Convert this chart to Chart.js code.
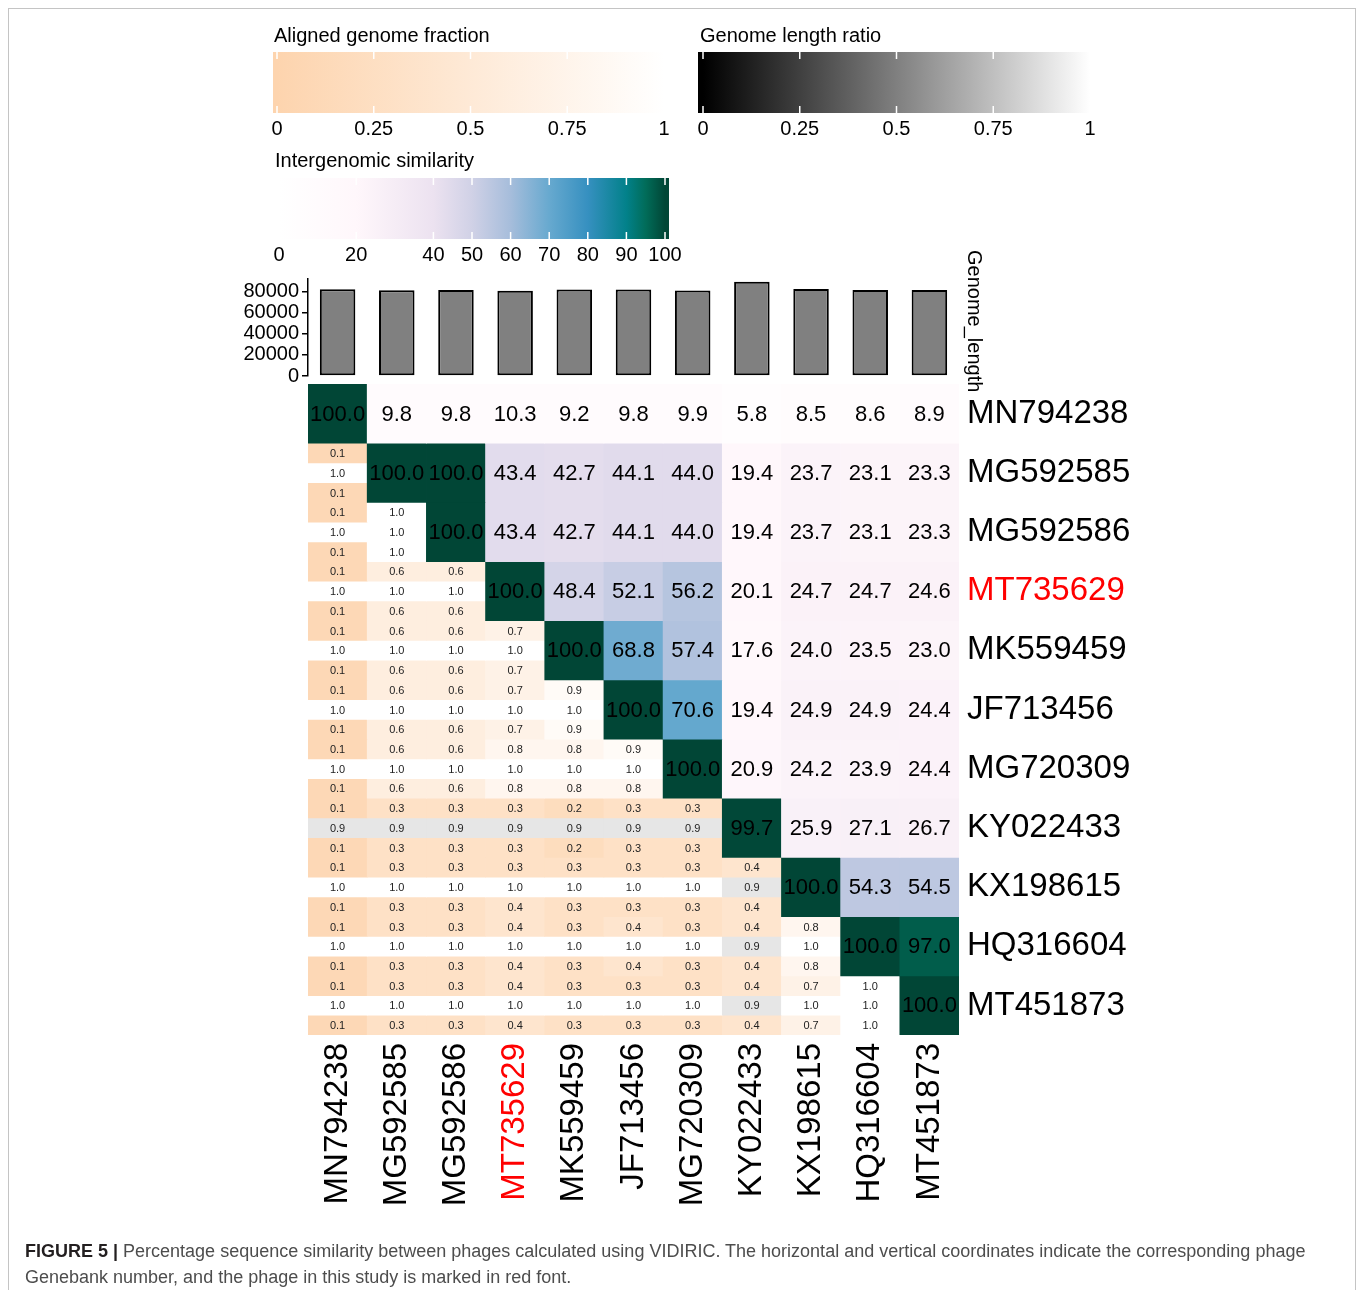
<!DOCTYPE html>
<html>
<head>
<meta charset="utf-8">
<script src="https://cdn.jsdelivr.net/npm/chart.js@4.4.1/dist/chart.umd.min.js"></script>
<style>
  html, body { margin: 0; padding: 0; background: #fff; }
  #page { position: relative; width: 1360px; height: 1290px; overflow: hidden; }
  canvas { position: absolute; left: 0; }
  #heat { top: 0; }
  #bars { top: 250px; }
  #frame { position: absolute; left: 8px; top: 8px; width: 1346px; height: 1320px; border: 1px solid #c4c4c4; }
  #caption { position: absolute; left: 25px; top: 1238px; font: 18px "Liberation Sans", Arial, sans-serif;
             line-height: 26px; color: #4d4d4d; white-space: nowrap; }
  #caption b { color: #231f20; }
</style>
</head>
<body>
<div id="page">
  <div id="frame"></div>
  <canvas id="heat" width="1360" height="1290"></canvas>
  <canvas id="bars" width="1360" height="140"></canvas>
  <div id="caption">
    <div><b>FIGURE 5 |</b> Percentage sequence similarity between phages calculated using VIDIRIC. The horizontal and vertical coordinates indicate the corresponding phage</div>
    <div>Genebank number, and the phage in this study is marked in red font.</div>
  </div>
</div>
<script>
const names = ["MN794238", "MG592585", "MG592586", "MT735629", "MK559459", "JF713456",
               "MG720309", "KY022433", "KX198615", "HQ316604", "MT451873"];
const highlight = "MT735629";

const genomeLength = [82300, 81300, 81500, 80900, 82000, 82000, 81200, 89500, 82600, 81600, 81500];
const lengthTicks = [0, 20000, 40000, 60000, 80000];

// upper triangle incl. diagonal: row i holds columns i..10
const similarity = [
  [100.0, 9.8, 9.8, 10.3, 9.2, 9.8, 9.9, 5.8, 8.5, 8.6, 8.9],
  [100.0, 100.0, 43.4, 42.7, 44.1, 44.0, 19.4, 23.7, 23.1, 23.3],
  [100.0, 43.4, 42.7, 44.1, 44.0, 19.4, 23.7, 23.1, 23.3],
  [100.0, 48.4, 52.1, 56.2, 20.1, 24.7, 24.7, 24.6],
  [100.0, 68.8, 57.4, 17.6, 24.0, 23.5, 23.0],
  [100.0, 70.6, 19.4, 24.9, 24.9, 24.4],
  [100.0, 20.9, 24.2, 23.9, 24.4],
  [99.7, 25.9, 27.1, 26.7],
  [100.0, 54.3, 54.5],
  [100.0, 97.0],
  [100.0]
];

// lower triangle: row i holds columns 0..i-1
const fractionTop = [
  [],
  [0.1],
  [0.1, 1.0],
  [0.1, 0.6, 0.6],
  [0.1, 0.6, 0.6, 0.7],
  [0.1, 0.6, 0.6, 0.7, 0.9],
  [0.1, 0.6, 0.6, 0.8, 0.8, 0.9],
  [0.1, 0.3, 0.3, 0.3, 0.2, 0.3, 0.3],
  [0.1, 0.3, 0.3, 0.3, 0.3, 0.3, 0.3, 0.4],
  [0.1, 0.3, 0.3, 0.4, 0.3, 0.4, 0.3, 0.4, 0.8],
  [0.1, 0.3, 0.3, 0.4, 0.3, 0.3, 0.3, 0.4, 0.7, 1.0]
];
const lengthRatio = [
  [],
  [1.0],
  [1.0, 1.0],
  [1.0, 1.0, 1.0],
  [1.0, 1.0, 1.0, 1.0],
  [1.0, 1.0, 1.0, 1.0, 1.0],
  [1.0, 1.0, 1.0, 1.0, 1.0, 1.0],
  [0.9, 0.9, 0.9, 0.9, 0.9, 0.9, 0.9],
  [1.0, 1.0, 1.0, 1.0, 1.0, 1.0, 1.0, 0.9],
  [1.0, 1.0, 1.0, 1.0, 1.0, 1.0, 1.0, 0.9, 1.0],
  [1.0, 1.0, 1.0, 1.0, 1.0, 1.0, 1.0, 0.9, 1.0, 1.0]
];
const fractionBottom = [
  [],
  [0.1],
  [0.1, 1.0],
  [0.1, 0.6, 0.6],
  [0.1, 0.6, 0.6, 0.7],
  [0.1, 0.6, 0.6, 0.7, 0.9],
  [0.1, 0.6, 0.6, 0.8, 0.8, 0.8],
  [0.1, 0.3, 0.3, 0.3, 0.2, 0.3, 0.3],
  [0.1, 0.3, 0.3, 0.4, 0.3, 0.3, 0.3, 0.4],
  [0.1, 0.3, 0.3, 0.4, 0.3, 0.4, 0.3, 0.4, 0.8],
  [0.1, 0.3, 0.3, 0.4, 0.3, 0.3, 0.3, 0.4, 0.7, 1.0]
];

const fractionTicks = [0, 0.25, 0.5, 0.75, 1];
const ratioTicks = [0, 0.25, 0.5, 0.75, 1];
const similarityTicks = [0, 20, 40, 50, 60, 70, 80, 90, 100];

const simStops = [[0, "#ffffff"], [20, "#fff7fb"], [40, "#ece2f0"], [50, "#d0d1e6"], [60, "#a6bddb"],
                  [70, "#67a9cf"], [80, "#3690c0"], [90, "#02818a"], [95, "#016c59"], [100, "#014636"]];
const fracStops = [[0, "#fdd4ae"], [1, "#ffffff"]];
const ratioStops = [[0, "#000000"], [1, "#ffffff"]];

const FONT = '"Liberation Sans", Arial, sans-serif';
const N = names.length;

const hexRgb = h => [1, 3, 5].map(i => parseInt(h.slice(i, i + 2), 16));
function colorFrom(stops, v) {
  if (v <= stops[0][0]) return stops[0][1];
  for (let k = 1; k < stops.length; k++) {
    if (v <= stops[k][0]) {
      const t = (v - stops[k - 1][0]) / (stops[k][0] - stops[k - 1][0]);
      const a = hexRgb(stops[k - 1][1]), b = hexRgb(stops[k][1]);
      const c = a.map((x, n) => Math.round(x + (b[n] - x) * t));
      return `rgb(${c[0]}, ${c[1]}, ${c[2]})`;
    }
  }
  return stops[stops.length - 1][1];
}

const labelColor = ctx => names[ctx.index] === highlight ? "#ff0000" : "#000000";

// one floating-bar dataset per row (similarity) and three per row for the split lower cells
const datasets = [];
for (let i = 0; i < N; i++) {
  datasets.push({
    data: names.map((_, j) => j >= i ? [i, i + 1] : null),
    backgroundColor: names.map((_, j) => j >= i ? colorFrom(simStops, similarity[i][j - i]) : "transparent")
  });
  [fractionTop, lengthRatio, fractionBottom].forEach((arr, k) => {
    const stops = k === 1 ? ratioStops : fracStops;
    datasets.push({
      data: names.map((_, j) => j < i ? [i + k / 3, i + (k + 1) / 3] : null),
      backgroundColor: names.map((_, j) => j < i ? colorFrom(stops, arr[i][j]) : "transparent")
    });
  });
}

const cellText = {
  id: "cellText",
  afterDatasetsDraw(chart) {
    const ctx = chart.ctx, x = chart.scales.x, y = chart.scales.y;
    ctx.save();
    ctx.textAlign = "center";
    ctx.textBaseline = "middle";
    for (let i = 0; i < N; i++) {
      for (let j = 0; j < N; j++) {
        const px = x.getPixelForValue(j);
        if (j >= i) {
          ctx.font = "22px " + FONT;
          ctx.fillStyle = "#000";
          ctx.fillText(similarity[i][j - i].toFixed(1), px, y.getPixelForValue(i + 0.5) + 1);
        } else {
          ctx.font = "11px " + FONT;
          ctx.fillStyle = "#222";
          [fractionTop, lengthRatio, fractionBottom].forEach((arr, k) => {
            ctx.fillText(arr[i][j].toFixed(1), px, y.getPixelForValue(i + (k + 0.5) / 3) + 1);
          });
        }
      }
    }
    ctx.restore();
  }
};

function drawLegend(ctx, o) {
  ctx.save();
  ctx.fillStyle = "#000";
  ctx.font = "20px " + FONT;
  ctx.textAlign = "left";
  ctx.textBaseline = "alphabetic";
  ctx.fillText(o.title, o.tx, o.ty);
  const span = o.vmax - o.vmin;
  const g = ctx.createLinearGradient(o.p0, 0, o.p1, 0);
  o.stops.forEach(s => g.addColorStop((s[0] - o.vmin) / span, s[1]));
  ctx.fillStyle = g;
  ctx.fillRect(o.x0, o.y0, o.x1 - o.x0, o.y1 - o.y0);
  ctx.strokeStyle = "#fff";
  ctx.lineWidth = 1.5;
  ctx.fillStyle = "#000";
  ctx.textAlign = "center";
  ctx.textBaseline = "middle";
  o.ticks.forEach(t => {
    const px = o.p0 + (o.p1 - o.p0) * (t - o.vmin) / span;
    ctx.beginPath();
    ctx.moveTo(px, o.y0); ctx.lineTo(px, o.y0 + 7);
    ctx.moveTo(px, o.y1 - 7); ctx.lineTo(px, o.y1);
    ctx.stroke();
    ctx.fillText(String(t), px, o.ly);
  });
  ctx.restore();
}

const legends = {
  id: "legends",
  afterDraw(chart) {
    const ctx = chart.ctx;
    drawLegend(ctx, { title: "Aligned genome fraction", tx: 274, ty: 42, x0: 273, x1: 668, y0: 52, y1: 113,
      p0: 277, p1: 664, vmin: 0, vmax: 1, stops: fracStops, ticks: fractionTicks, ly: 129 });
    drawLegend(ctx, { title: "Genome length ratio", tx: 700, ty: 42, x0: 698, x1: 1092, y0: 52, y1: 113,
      p0: 703, p1: 1090, vmin: 0, vmax: 1, stops: ratioStops, ticks: ratioTicks, ly: 129 });
    drawLegend(ctx, { title: "Intergenomic similarity", tx: 275, ty: 167, x0: 279, x1: 669, y0: 178, y1: 239,
      p0: 279, p1: 665, vmin: 0, vmax: 100, stops: simStops, ticks: similarityTicks, ly: 255 });
    ctx.save();
    ctx.translate(964, 250);
    ctx.rotate(Math.PI / 2);
    ctx.font = "20px " + FONT;
    ctx.fillStyle = "#000";
    ctx.textAlign = "left";
    ctx.textBaseline = "bottom";
    ctx.fillText("Genome_length", 0, 0);
    ctx.restore();
  }
};

new Chart(document.getElementById("heat"), {
  type: "bar",
  data: { labels: names, datasets: datasets },
  options: {
    responsive: false,
    animation: false,
    events: [],
    layout: { padding: { left: 308, top: 384, right: 101, bottom: 85 } },
    plugins: { legend: { display: false }, tooltip: { enabled: false } },
    datasets: { bar: { barPercentage: 1, categoryPercentage: 1, grouped: false, borderWidth: 0 } },
    scales: {
      x: {
        type: "category",
        position: "bottom",
        afterFit(s) { s.height = 170; },
        grid: { display: false, drawTicks: false },
        border: { display: false },
        ticks: { autoSkip: false, minRotation: 90, maxRotation: 90, padding: 8,
                 font: { size: 33, family: FONT }, color: labelColor }
      },
      y: { type: "linear", display: false, min: 0, max: N, reverse: true },
      yl: {
        type: "category",
        labels: names,
        position: "right",
        offset: true,
        afterFit(s) { s.width = 300; },
        grid: { display: false, drawTicks: false },
        border: { display: false },
        ticks: { autoSkip: false, padding: 8, font: { size: 33, family: FONT }, color: labelColor }
      }
    }
  },
  plugins: [cellText, legends]
});

new Chart(document.getElementById("bars"), {
  type: "bar",
  data: {
    labels: names,
    datasets: [{
      data: genomeLength,
      backgroundColor: "#808080",
      borderColor: "#000",
      borderWidth: 2,
      borderSkipped: false,
      barPercentage: 0.6,
      categoryPercentage: 1
    }]
  },
  options: {
    responsive: false,
    animation: false,
    events: [],
    layout: { padding: { left: 228, right: 401, top: 29, bottom: 14 } },
    plugins: { legend: { display: false }, tooltip: { enabled: false } },
    scales: {
      x: { display: false },
      y: {
        min: 0,
        max: 92000,
        afterFit(s) { s.width = 80; },
        afterBuildTicks(s) { s.ticks = lengthTicks.map(v => ({ value: v })); },
        ticks: { autoSkip: false, padding: 3, color: "#000", callback: v => String(v),
                 font: { size: 20, family: FONT, lineHeight: 1 } },
        grid: { drawOnChartArea: false, color: "#000", lineWidth: 1.5, tickLength: 6 },
        border: { display: true, color: "#000", width: 1.5 }
      }
    }
  }
});
</script>
</body>
</html>
